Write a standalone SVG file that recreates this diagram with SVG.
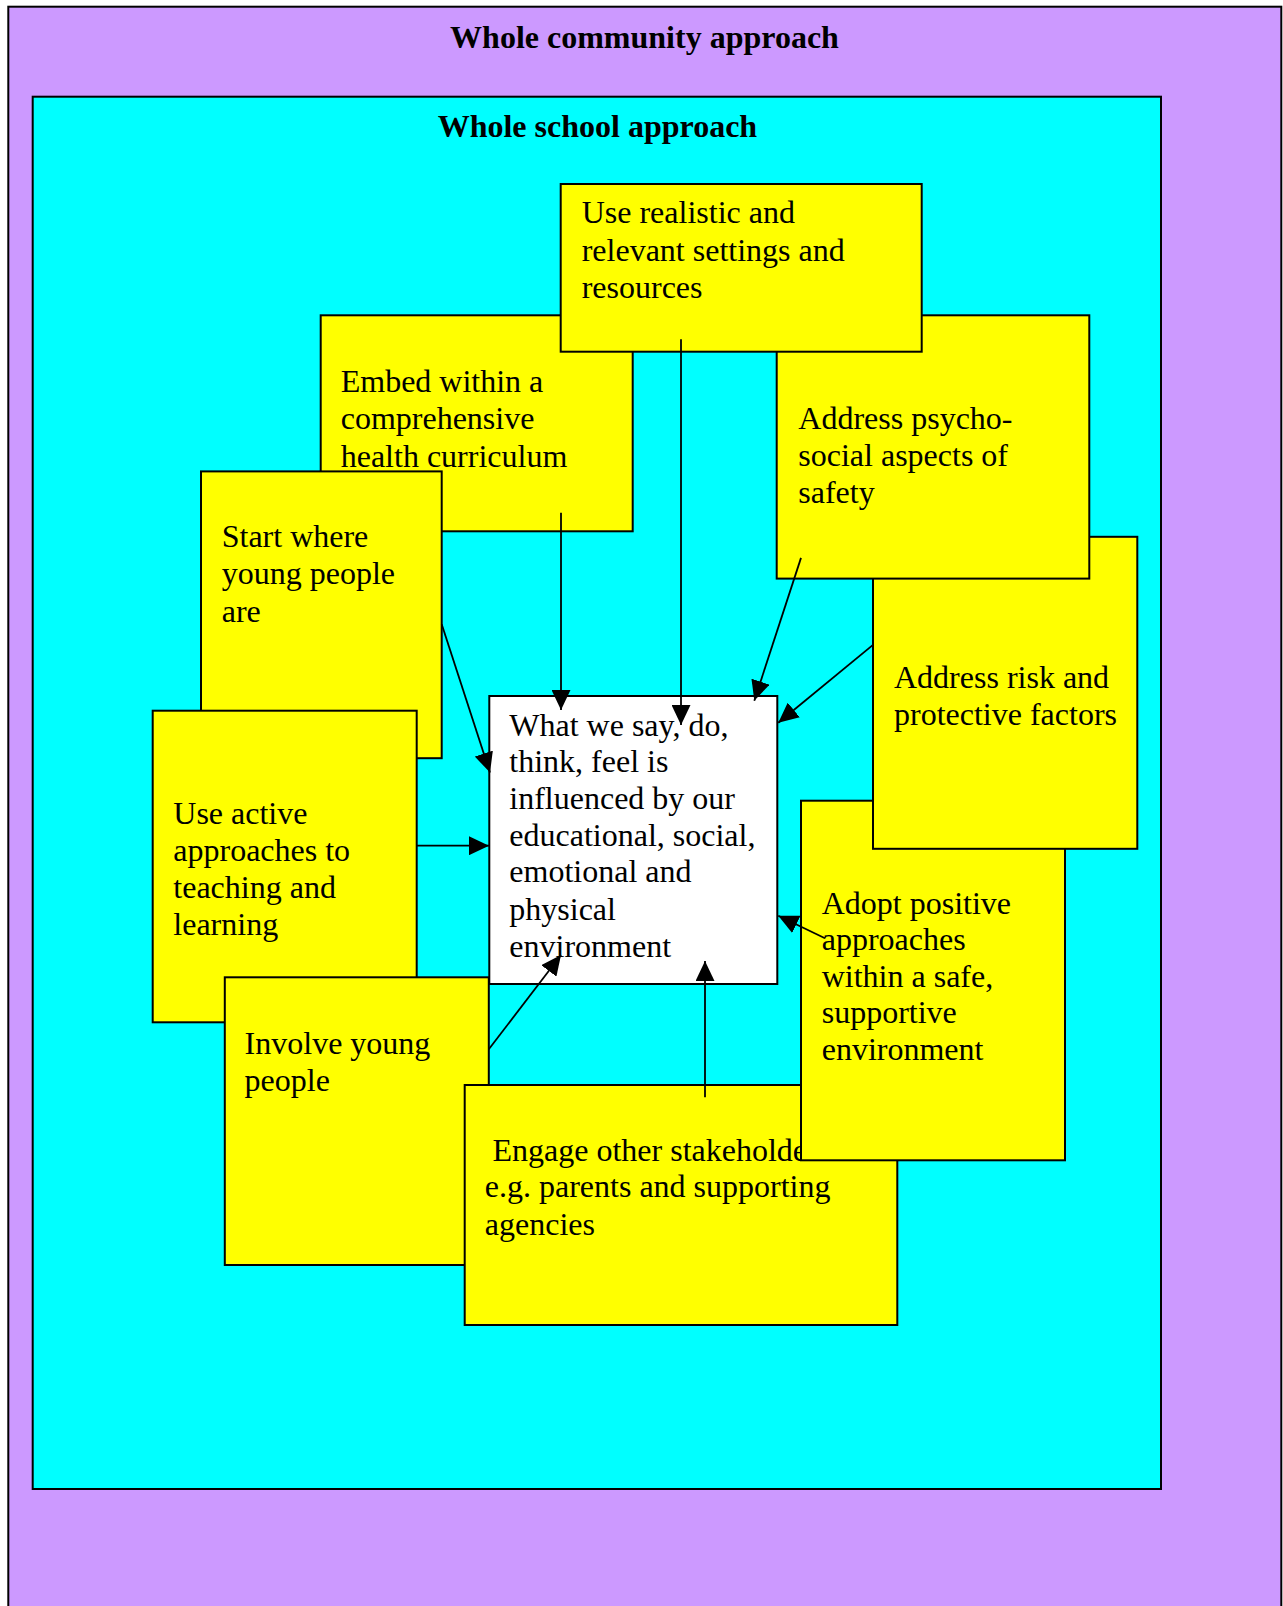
<svg xmlns="http://www.w3.org/2000/svg" width="1283" height="1606" viewBox="0 0 1283 1606">
<defs>
<style>
.bx{fill:#FFFF00;stroke:#000;stroke-width:2}
.t{font-family:"Liberation Serif","Times New Roman",serif;font-size:32px;fill:#000}
.h{font-family:"Liberation Serif","Times New Roman",serif;font-size:32px;font-weight:bold;fill:#000;text-anchor:middle}
.c{stroke:#000;stroke-width:1.8;fill:none;marker-end:url(#ah)}
</style>
<marker id="ah" markerUnits="userSpaceOnUse" markerWidth="20" markerHeight="19" refX="20" refY="9.5" orient="auto">
<path d="M0,0 L20,9.5 L0,19 z" fill="#000"/>
</marker>
</defs>
<g id="community">
<rect x="8.3" y="6.7" width="1273" height="1620" fill="#CC99FF" stroke="#000" stroke-width="2"/>
<text class="h" x="644.5" y="48">Whole community approach</text>
</g>
<g id="school">
<rect x="32.7" y="96.7" width="1128.3" height="1392.3" fill="#00FFFF" stroke="#000" stroke-width="2"/>
<text class="h" x="597.4" y="136.5">Whole school approach</text>
</g>
<g id="embed">
<rect class="bx" x="320.7" y="315.3" width="312" height="216"/>
<text class="t" x="340.7" y="392.2">Embed within a</text>
<text class="t" x="340.7" y="428.8">comprehensive</text>
<text class="t" x="340.7" y="466.5">health curriculum</text>
</g>
<g id="start">
<rect class="bx" x="201" y="471.4" width="240.7" height="286.8"/>
<text class="t" x="221.7" y="547.3">Start where</text>
<text class="t" x="221.7" y="584">young people</text>
<text class="t" x="221.7" y="621.5">are</text>
</g>
<g id="active">
<rect class="bx" x="152.7" y="710.7" width="264" height="311.6"/>
<text class="t" x="173.3" y="824">Use active</text>
<text class="t" x="173.3" y="860.7">approaches to</text>
<text class="t" x="173.3" y="897.7">teaching and</text>
<text class="t" x="173.3" y="934.9">learning</text>
</g>
<g id="involve">
<rect class="bx" x="224.8" y="977.3" width="264" height="287.7"/>
<text class="t" x="244.6" y="1053.8">Involve young</text>
<text class="t" x="244.6" y="1091">people</text>
</g>
<g id="engage">
<rect class="bx" x="464.7" y="1085" width="432.6" height="240"/>
<text class="t" x="492.5" y="1160.5">Engage other stakeholders</text>
<text class="t" x="484.8" y="1197.2">e.g. parents and supporting</text>
<text class="t" x="484.8" y="1234.5">agencies</text>
</g>
<g id="adopt">
<rect class="bx" x="801" y="800.7" width="264" height="359.6"/>
<text class="t" x="821.7" y="913.8">Adopt positive</text>
<text class="t" x="821.7" y="950">approaches</text>
<text class="t" x="821.7" y="986.5">within a safe,</text>
<text class="t" x="821.7" y="1023">supportive</text>
<text class="t" x="821.7" y="1059.8">environment</text>
</g>
<g id="risk">
<rect class="bx" x="873" y="536.8" width="264.3" height="312"/>
<text class="t" x="894" y="688">Address risk and</text>
<text class="t" x="894" y="725">protective factors</text>
</g>
<g id="psycho">
<rect class="bx" x="776.7" y="315.3" width="312.6" height="263.3"/>
<text class="t" x="798.3" y="429.1">Address psycho-</text>
<text class="t" x="798.3" y="466.3">social aspects of</text>
<text class="t" x="798.3" y="503.3">safety</text>
</g>
<g id="realistic">
<rect class="bx" x="560.7" y="184" width="361" height="167.7"/>
<text class="t" x="581.7" y="223.2">Use realistic and</text>
<text class="t" x="581.7" y="260.5">relevant settings and</text>
<text class="t" x="581.7" y="298.2">resources</text>
</g>
<g id="centre">
<rect x="489.3" y="696" width="288" height="288" fill="#FFFFFF" stroke="#000" stroke-width="2"/>
<text class="t" x="509.3" y="735.5">What we say, do,</text>
<text class="t" x="509.3" y="772.2">think, feel is</text>
<text class="t" x="509.3" y="808.8">influenced by our</text>
<text class="t" x="509.3" y="845.5">educational, social,</text>
<text class="t" x="509.3" y="882.2">emotional and</text>
<text class="t" x="509.3" y="919.5">physical</text>
<text class="t" x="509.3" y="957">environment</text>
</g>
<g id="connectors">
<line class="c" x1="561" y1="512.7" x2="561" y2="710"/>
<line class="c" x1="681" y1="339.3" x2="681" y2="725"/>
<line class="c" x1="801" y1="557.9" x2="754.3" y2="700.7"/>
<line class="c" x1="873.3" y1="644.6" x2="778.3" y2="722.7"/>
<line class="c" x1="441.7" y1="624.3" x2="490" y2="772.6"/>
<line class="c" x1="416.7" y1="845.7" x2="489" y2="845.7"/>
<line class="c" x1="825" y1="938.3" x2="778.3" y2="915.7"/>
<line class="c" x1="488.8" y1="1049.3" x2="561" y2="955"/>
<line class="c" x1="705" y1="1097.3" x2="705" y2="961"/>
</g>
</svg>
